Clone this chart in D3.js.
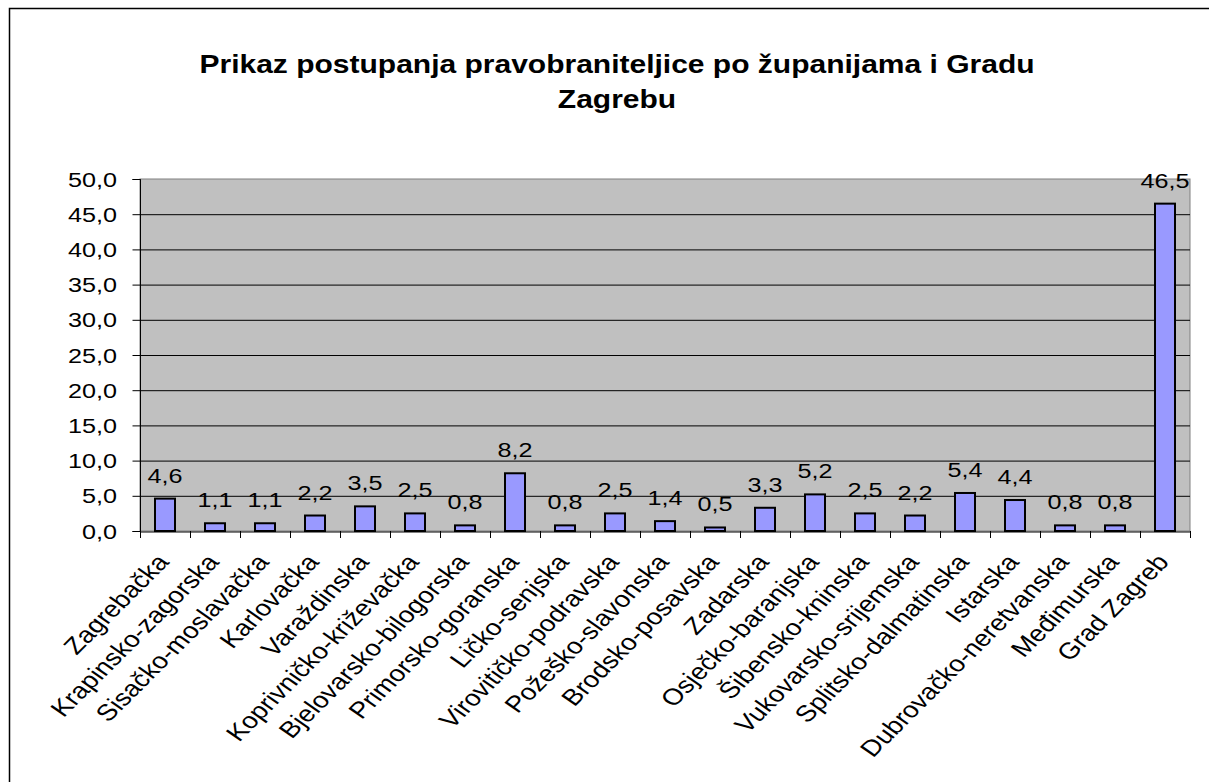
<!DOCTYPE html>
<html>
<head>
<meta charset="utf-8">
<script src="https://cdn.jsdelivr.net/npm/d3@7"></script>
<style>
  body { margin: 0; background: #fff; }
  svg { display: block; font-family: "Liberation Sans", Arial, sans-serif; }
</style>
</head>
<body>
<svg id="chart"></svg>
<script>
// Data
const counties = [
  "Zagrebačka", "Krapinsko-zagorska", "Sisačko-moslavačka", "Karlovačka",
  "Varaždinska", "Koprivničko-križevačka", "Bjelovarsko-bilogorska",
  "Primorsko-goranska", "Ličko-senjska", "Virovitičko-podravska",
  "Požeško-slavonska", "Brodsko-posavska", "Zadarska", "Osječko-baranjska",
  "Šibensko-kninska", "Vukovarsko-srijemska", "Splitsko-dalmatinska",
  "Istarska", "Dubrovačko-neretvanska", "Međimurska", "Grad Zagreb"
];
const shares = [
  4.6, 1.1, 1.1, 2.2, 3.5, 2.5, 0.8, 8.2, 0.8, 2.5, 1.4,
  0.5, 3.3, 5.2, 2.5, 2.2, 5.4, 4.4, 0.8, 0.8, 46.5
];
const yTicks = [0, 5, 10, 15, 20, 25, 30, 35, 40, 45, 50];
const titleLines = ["Prikaz postupanja pravobraniteljice po županijama i Gradu", "Zagrebu"];

// Chart Dimensions
const width = 1209;
const height = 782;
const plot = { left: 140, right: 1190, top: 179, bottom: 531 };
const stretch = 1.2; // source picture is a bit wider than tall

const fmt = (v) => d3.format(".1f")(v).replace(".", ",");

const svg = d3.select("#chart").attr("width", width).attr("height", height);

// Outer frame (only left and top edges are visible)
svg.append("rect")
  .attr("x", 9.5).attr("y", 8.5)
  .attr("width", width + 20).attr("height", height + 20)
  .attr("fill", "none").attr("stroke", "#000").attr("stroke-width", 1.5);

// Title
titleLines.forEach((line, i) => {
  svg.append("g")
    .attr("transform", `translate(617, ${73 + i * 35}) scale(${stretch},1)`)
    .append("text")
    .attr("text-anchor", "middle")
    .attr("font-size", 25)
    .attr("font-weight", "bold")
    .attr("fill", "#000")
    .text(line);
});

// Scales
const xScale = d3.scaleBand()
  .domain(counties)
  .range([plot.left, plot.right]);

const yScale = d3.scaleLinear()
  .domain([0, 50])
  .range([plot.bottom, plot.top]);

// Plot area background
svg.append("rect")
  .attr("x", plot.left).attr("y", plot.top)
  .attr("width", plot.right - plot.left).attr("height", plot.bottom - plot.top)
  .attr("fill", "#c0c0c0")
  .attr("stroke", "#808080").attr("stroke-width", 1);

// Gridlines
svg.append("g")
  .selectAll("line")
  .data(yTicks.filter((d) => d > 0 && d < 50))
  .enter()
  .append("line")
  .attr("x1", plot.left).attr("x2", plot.right)
  .attr("y1", (d) => yScale(d) + 0.5).attr("y2", (d) => yScale(d) + 0.5)
  .attr("stroke", "#000").attr("stroke-width", 1);

// Y axis
const yAxis = svg.append("g")
  .attr("transform", `translate(${plot.left + 0.5}, 0)`)
  .call(d3.axisLeft(yScale).tickValues(yTicks).tickSize(8).tickFormat(""));
yAxis.selectAll("line, path").attr("stroke", "#000");
yAxis.select(".domain").attr("d", `M-8,${plot.top + 0.5}H0V${plot.bottom + 0.5}H-8`);

svg.append("g")
  .selectAll("g")
  .data(yTicks)
  .enter()
  .append("g")
  .attr("transform", (d) => `translate(117, ${yScale(d)}) scale(${stretch},1)`)
  .append("text")
  .attr("text-anchor", "end")
  .attr("dy", "0.36em")
  .attr("font-size", 21)
  .attr("fill", "#000")
  .text(fmt);

// X axis
const xAxis = svg.append("g")
  .attr("transform", `translate(0, ${plot.bottom + 0.5})`)
  .call(d3.axisBottom(xScale).tickSize(0).tickFormat(""));
xAxis.select(".domain").attr("stroke", "#000");

svg.append("g")
  .selectAll("line")
  .data(d3.range(counties.length + 1))
  .enter()
  .append("line")
  .attr("x1", (i) => Math.round(plot.left + i * xScale.step()) + 0.5)
  .attr("x2", (i) => Math.round(plot.left + i * xScale.step()) + 0.5)
  .attr("y1", plot.bottom)
  .attr("y2", plot.bottom + 7)
  .attr("stroke", "#000");

svg.append("g")
  .selectAll("g")
  .data(counties)
  .enter()
  .append("g")
  .attr("transform", (d) =>
    `translate(${xScale(d) + xScale.bandwidth() / 2 - 10}, 552) scale(${stretch},1) rotate(-50)`)
  .append("text")
  .attr("text-anchor", "end")
  .attr("dy", "0.72em")
  .attr("font-size", 23)
  .attr("fill", "#000")
  .text((d) => d);

// Bars
const barWidth = 20;
svg.append("g")
  .selectAll("rect")
  .data(counties)
  .enter()
  .append("rect")
  .attr("x", (d) => xScale(d) + (xScale.bandwidth() - barWidth) / 2)
  .attr("y", (d, i) => yScale(shares[i]))
  .attr("width", barWidth)
  .attr("height", (d, i) => plot.bottom - yScale(shares[i]))
  .attr("fill", "#9999ff")
  .attr("stroke", "#000")
  .attr("stroke-width", 2);

// Data labels
svg.append("g")
  .selectAll("g")
  .data(counties)
  .enter()
  .append("g")
  .attr("transform", (d, i) =>
    `translate(${xScale(d) + xScale.bandwidth() / 2}, ${yScale(shares[i]) - 16}) scale(${stretch},1)`)
  .append("text")
  .attr("text-anchor", "middle")
  .attr("font-size", 21)
  .attr("fill", "#000")
  .text((d, i) => fmt(shares[i]));
</script>
</body>
</html>
